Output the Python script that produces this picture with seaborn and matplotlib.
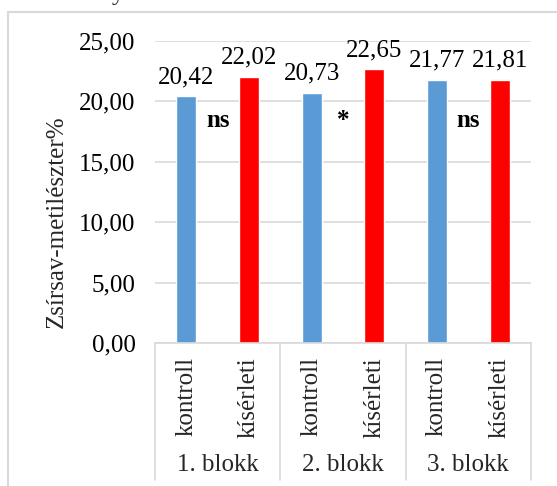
import matplotlib
matplotlib.use("Agg")
import matplotlib.pyplot as plt
import matplotlib.ticker as mticker
from matplotlib.lines import Line2D
import seaborn as sns
import pandas as pd

# Data
blocks = ["1. blokk", "2. blokk", "3. blokk"]
conditions = ["kontroll", "kísérleti"]
kontroll_vals = [20.42, 20.73, 21.77]
kiserleti_vals = [22.02, 22.65, 21.81]
significance = ["ns", "*", "ns"]
y_ticks = [0, 5, 10, 15, 20, 25]

rows = []
for b, k, e in zip(blocks, kontroll_vals, kiserleti_vals):
    rows.append({"blokk": b, "csoport": conditions[0], "ertek": k})
    rows.append({"blokk": b, "csoport": conditions[1], "ertek": e})
df = pd.DataFrame(rows)

sns.set_theme(style="white")
plt.rcParams["font.family"] = ["Liberation Serif", "DejaVu Serif"]

FS = 18

W, H = 557, 486
fig = plt.figure(figsize=(W / 100, H / 100), dpi=100)

# axes placement in pixels
ax_l, ax_r, ax_t, ax_b = 155, 531, 41, 343
ax = fig.add_axes([ax_l / W, 1 - ax_b / H, (ax_r - ax_l) / W, (ax_b - ax_t) / H])

sns.barplot(data=df, x="blokk", y="ertek", hue="csoport", order=blocks,
            hue_order=conditions, palette=["#5B9BD5", "#FF0000"],
            width=1.0, gap=0.68, saturation=1, legend=False, ax=ax,
            errorbar=None)

ax.set_xlim(-0.5, 2.5)
ax.set_ylim(0, 25)
ax.set_yticks(y_ticks)
ax.yaxis.set_major_formatter(mticker.FuncFormatter(lambda v, p: f"{v:.2f}".replace(".", ",")))
ax.tick_params(axis="y", length=0, pad=14, labelsize=FS, colors="black")
ax.set_xticks([])
ax.set_xlabel("")
ax.set_ylabel("")
ax.grid(axis="y", color="#d9d9d9", linewidth=1.2)
ax.set_axisbelow(True)
for side in ["left", "right", "top"]:
    ax.spines[side].set_visible(False)
ax.spines["bottom"].set_color("#d9d9d9")
ax.spines["bottom"].set_linewidth(1.2)

# value labels above bars
for container in ax.containers:
    ax.bar_label(container, labels=[f"{v:.2f}".replace(".", ",") for v in container.datavalues],
                 padding=6, fontsize=FS, color="black")

# significance markers between the bars of each block
for i, s in enumerate(significance):
    ax.text(i, 18.4, s, ha="center", va="center", fontsize=FS,
            fontweight="bold", color="black")

# two-level category axis
xt = ax.get_xaxis_transform()
axh = ax_b - ax_t
for i, b in enumerate(blocks):
    for j, c in enumerate(conditions):
        ax.text(i - 0.25 + 0.5 * j, -14 / axh, c, rotation=90, ha="center", va="top",
                fontsize=FS, transform=xt, clip_on=False)
    ax.text(i, -122 / axh, b, ha="center", va="center", fontsize=FS,
            transform=xt, clip_on=False)
for xs in [-0.5, 0.5, 1.5, 2.5]:
    ax.add_line(Line2D([xs, xs], [0, -137 / axh], transform=xt, color="#d9d9d9",
                       linewidth=1.2, clip_on=False))

# y-axis title
fig.text(57 / W, 1 - 222 / H, "Zsírsav-metilészter%", rotation=90, ha="center",
         va="center", fontsize=FS)

# chart frame
fig.add_artist(Line2D([8 / W, 8 / W], [0, 1 - 12 / H], transform=fig.transFigure,
                      color="#d9d9d9", linewidth=1.5))
fig.add_artist(Line2D([8 / W, 1], [1 - 12 / H, 1 - 12 / H], transform=fig.transFigure,
                      color="#d9d9d9", linewidth=1.5))

# title, mostly above the visible area
fig.text(118 / W, 1.0, "y", ha="center", va="baseline", fontsize=FS)

fig.savefig("out.png", dpi=100, facecolor="white")
